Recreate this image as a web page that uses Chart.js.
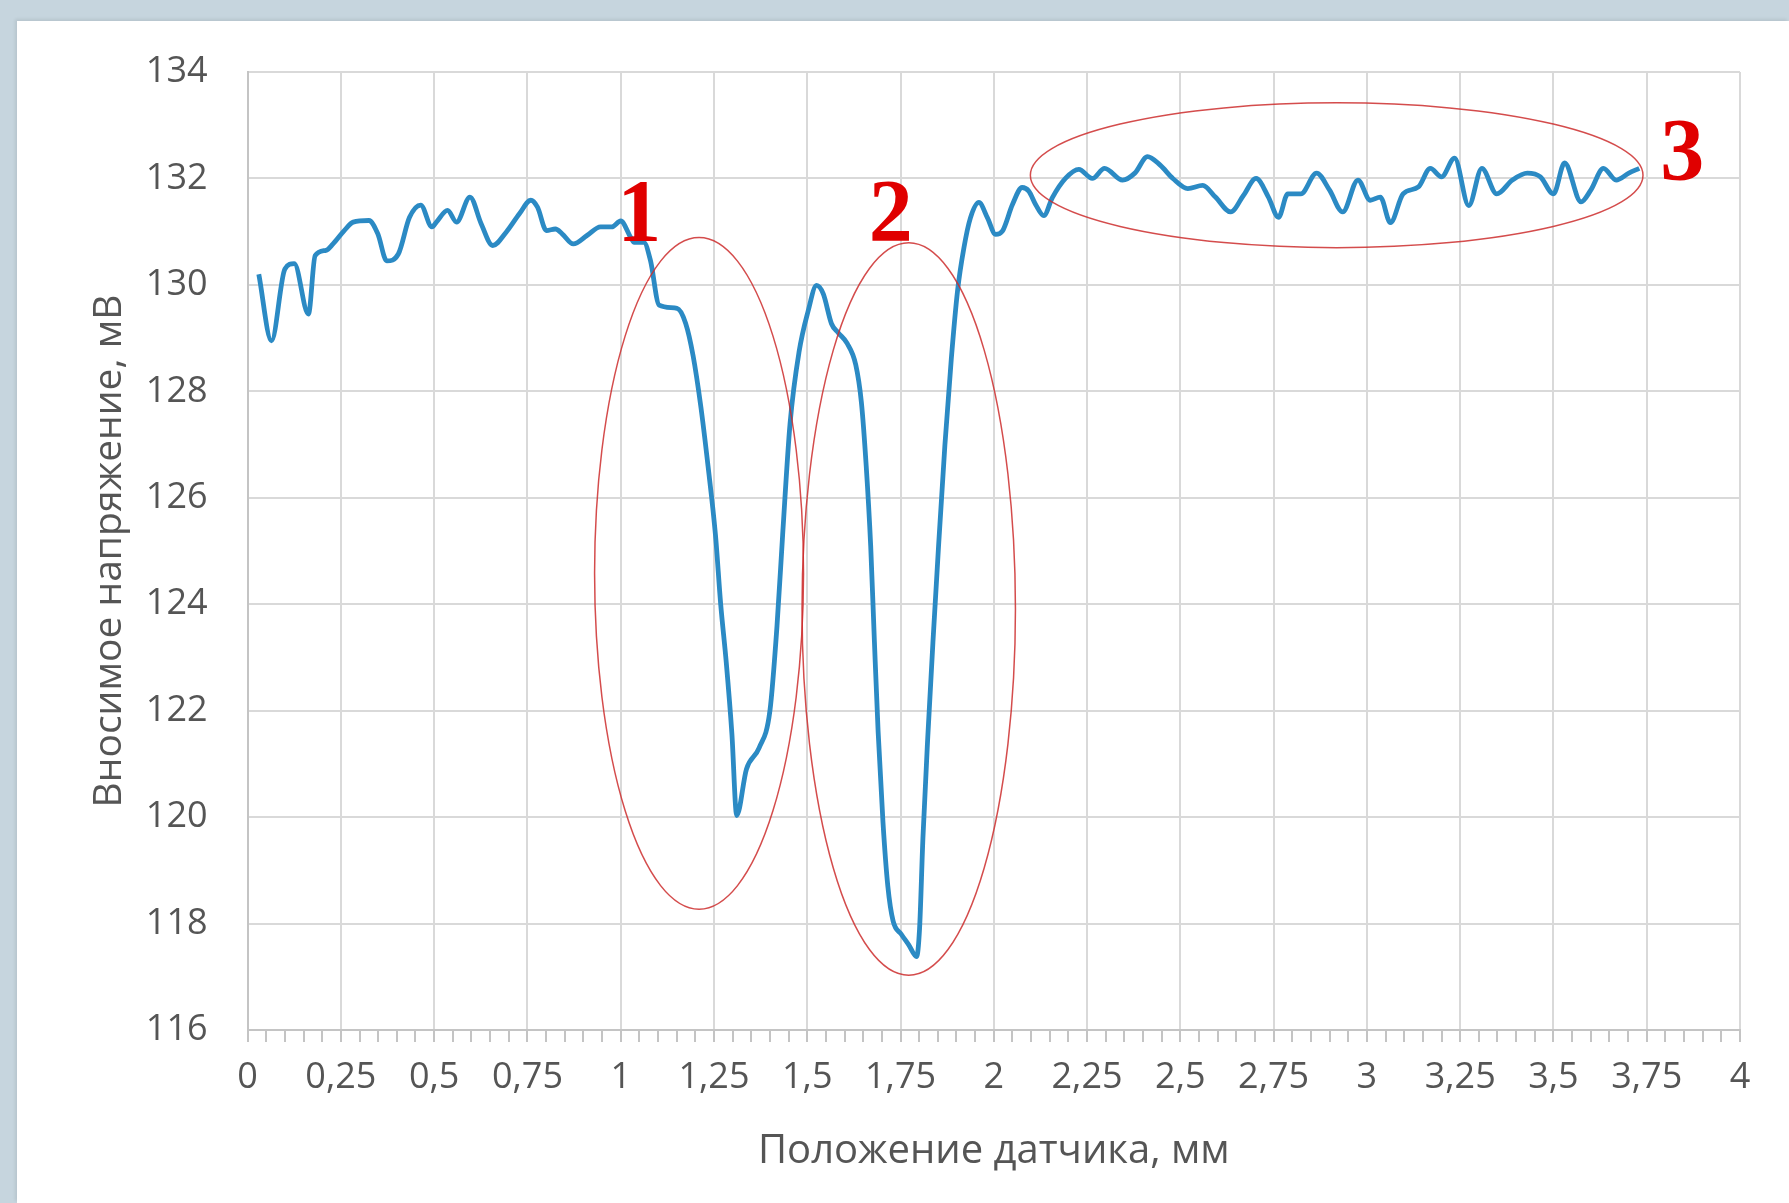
<!DOCTYPE html>
<html>
<head>
<meta charset="utf-8">
<script src="https://cdn.jsdelivr.net/npm/chart.js@4/dist/chart.umd.min.js"></script>
<style>
  html, body { margin: 0; padding: 0; background: #c6d5de; }
  #panel {
    position: absolute; left: 17px; top: 21px; width: 1772px; height: 1182px;
    background: #fff; box-shadow: -2px -2px 3px rgba(0,0,0,0.08);
  }
  #chart { display: block; }
</style>
</head>
<body>
<div id="panel"><canvas id="chart" width="1772" height="1182"></canvas></div>
<script>
// sensor position, mm
const positionMm = [
  0.03, 0.064, 0.10, 0.125, 0.163, 0.181, 0.21, 0.229, 0.259, 0.283,
  0.325, 0.349, 0.373, 0.404, 0.434, 0.464, 0.494, 0.506, 0.536, 0.56,
  0.596, 0.626, 0.657, 0.693, 0.729, 0.759, 0.777, 0.801, 0.825, 0.843,
  0.873, 0.91, 0.946, 0.976, 1.0, 1.027, 1.036, 1.062, 1.08, 1.103,
  1.151, 1.174, 1.194, 1.215, 1.234, 1.254, 1.268, 1.283, 1.298, 1.311,
  1.337, 1.371, 1.40, 1.419, 1.434, 1.454, 1.478, 1.502, 1.525, 1.543,
  1.565, 1.583, 1.607, 1.63, 1.645, 1.658, 1.67, 1.68, 1.69, 1.703,
  1.716, 1.73, 1.752, 1.772, 1.793, 1.801, 1.81, 1.823, 1.837, 1.852,
  1.869, 1.886, 1.903, 1.92, 1.937, 1.96, 1.983, 2.005, 2.023,
  2.05, 2.076, 2.094, 2.112, 2.134, 2.157, 2.192, 2.228, 2.264, 2.297,
  2.345, 2.378, 2.412, 2.446, 2.48, 2.52, 2.56, 2.594, 2.635, 2.669,
  2.703, 2.736, 2.763, 2.788, 2.823, 2.865, 2.9, 2.935, 2.976, 3.009,
  3.036, 3.063, 3.097, 3.138, 3.17, 3.2, 3.235, 3.273, 3.308, 3.348,
  3.39, 3.43, 3.465, 3.5, 3.53, 3.574, 3.6, 3.634, 3.668, 3.702, 3.73
];
// introduced voltage, mV
const voltageMv = [
  130.2, 128.95, 130.3, 130.4, 129.45, 130.55, 130.65, 130.77, 131.02, 131.18,
  131.21, 130.96, 130.45, 130.58, 131.27, 131.5, 131.09, 131.18, 131.4, 131.18,
  131.65, 131.15, 130.74, 130.99, 131.34, 131.59, 131.46, 131.02, 131.05, 130.96,
  130.77, 130.93, 131.09, 131.09, 131.2, 130.89, 130.8, 130.8, 130.45, 129.62,
  129.56, 129.28, 128.67, 127.7, 126.6, 125.3, 124.0, 122.9, 121.57, 120.03,
  120.9, 121.3, 122.0, 123.6, 125.3, 127.4, 128.74, 129.5, 129.99, 129.83,
  129.27, 129.1, 128.9, 128.5, 127.8, 126.6, 125.1, 123.3, 121.6, 119.9,
  118.7, 118.05, 117.8, 117.6, 117.38, 117.9, 119.6, 121.5, 123.3, 125.1,
  127.0, 128.6, 129.9, 130.7, 131.25, 131.55, 131.26, 130.95, 131.01,
  131.51, 131.83, 131.76, 131.51, 131.3, 131.64, 132.0, 132.17, 132.0, 132.19,
  131.97, 132.1, 132.41, 132.25, 132.0, 131.81, 131.87, 131.65, 131.37, 131.68,
  132.0, 131.65, 131.27, 131.71, 131.71, 132.1, 131.78, 131.37, 131.97, 131.59,
  131.65, 131.17, 131.71, 131.84, 132.19, 132.03, 132.38, 131.49, 132.19, 131.71,
  131.97, 132.1, 132.03, 131.71, 132.29, 131.56, 131.78, 132.19, 131.97, 132.1, 132.19
];

// marked zones: centre and half-axes in data units
const zoneLabels = ['1', '2', '3'];
const zoneCenterX = [1.21, 1.772, 2.919];
const zoneCenterY = [124.58, 123.91, 132.06];
const zoneRadiusX = [0.28, 0.286, 0.821];
const zoneRadiusY = [6.31, 6.88, 1.36];
const zoneLabelX = [1.05, 1.724, 3.845];
const zoneLabelY = [131.3, 131.3, 132.46];

const xMin = 0, xMax = 4, xStep = 0.05;
const yMin = 116, yMax = 134, yStep = 2;

const isMajor = (v) => Math.abs(Math.round(v * 100) % 25) === 0;

// ellipses and red numbers drawn through the scales
const zonesPlugin = {
  id: 'zones',
  afterDatasetsDraw(chart) {
    const ctx = chart.ctx;
    const xs = chart.scales.x, ys = chart.scales.y;
    ctx.save();
    for (let i = 0; i < zoneLabels.length; i++) {
      const cx = xs.getPixelForValue(zoneCenterX[i]);
      const cy = ys.getPixelForValue(zoneCenterY[i]);
      const rx = xs.getPixelForValue(zoneCenterX[i] + zoneRadiusX[i]) - cx;
      const ry = cy - ys.getPixelForValue(zoneCenterY[i] + zoneRadiusY[i]);
      ctx.beginPath();
      ctx.ellipse(cx, cy, rx, ry, 0, 0, Math.PI * 2);
      ctx.strokeStyle = 'rgba(205,45,45,0.85)';
      ctx.lineWidth = 1.5;
      ctx.stroke();
    }
    ctx.fillStyle = '#e00000';
    ctx.textAlign = 'center';
    ctx.textBaseline = 'middle';
    ctx.font = 'bold 88px "Liberation Serif", serif';
    for (let i = 0; i < zoneLabels.length; i++) {
      ctx.fillText(zoneLabels[i],
        xs.getPixelForValue(zoneLabelX[i]),
        ys.getPixelForValue(zoneLabelY[i]) + 2);
    }
    ctx.restore();
  }
};

const ctx = document.getElementById('chart').getContext('2d');
const chart = new Chart(ctx, {
  type: 'line',
  data: {
    datasets: [{
      data: positionMm.map((x, i) => ({x: x, y: voltageMv[i]})),
      borderColor: '#2b8ac4',
      borderWidth: 4.8,
      pointRadius: 0,
      fill: false,
      cubicInterpolationMode: 'monotone'
    }]
  },
  options: {
    responsive: false,
    animation: false,
    devicePixelRatio: 1,
    layout: {padding: {top: 51, right: 49, left: 0, bottom: 0}},
    plugins: {legend: {display: false}, tooltip: {enabled: false}},
    scales: {
      x: {
        type: 'linear',
        min: xMin, max: xMax,
        afterFit: (scale) => { scale.height = 173; },
        afterBuildTicks: (scale) => {
          const t = [];
          for (let k = 0; k <= Math.round((xMax - xMin) / xStep); k++) {
            t.push({value: +(xMin + k * xStep).toFixed(2)});
          }
          scale.ticks = t;
        },
        grid: {
          color: (c) => (c.tick && isMajor(c.tick.value)) ? '#d9d9d9' : 'rgba(0,0,0,0)',
          lineWidth: 2,
          tickColor: '#c4c4c4',
          tickLength: 12,
          drawTicks: true
        },
        border: {color: '#c4c4c4', width: 2},
        ticks: {
          autoSkip: false,
          maxRotation: 0,
          padding: 14,
          color: '#555555',
          font: {family: '"Open Sans"', size: 36},
          callback: (v) => isMajor(v) ? String(+v.toFixed(2)).replace('.', ',') : ''
        },
        title: {
          display: true,
          text: 'Положение датчика, мм',
          color: '#555555',
          font: {family: '"Open Sans"', size: 40},
          padding: {top: 0, bottom: 27}
        }
      },
      y: {
        min: yMin, max: yMax,
        afterFit: (scale) => { scale.width = 230.6; },
        // invisible tick marks give the gap between labels and plot
        grid: {color: '#d9d9d9', lineWidth: 2, drawTicks: true, tickLength: 40, tickColor: 'rgba(0,0,0,0)'},
        border: {color: '#c4c4c4', width: 2},
        ticks: {
          stepSize: yStep,
          padding: 0,
          color: '#555555',
          font: {family: '"Open Sans"', size: 36}
        },
        title: {
          display: true,
          text: 'Вносимое напряжение, мВ',
          color: '#555555',
          font: {family: '"Open Sans"', size: 39},
          padding: {top: 69, bottom: 0}
        }
      }
    }
  },
  plugins: [zonesPlugin]
});
</script>
</body>
</html>
